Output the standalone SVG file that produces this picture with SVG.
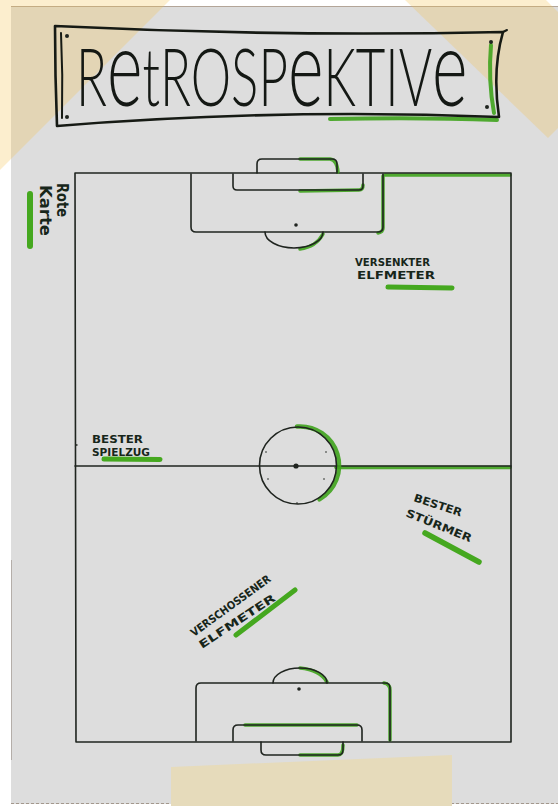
<svg xmlns="http://www.w3.org/2000/svg" width="558" height="806" viewBox="0 0 558 806">
<style>
.ink{fill:none;stroke:#1f241f;stroke-width:1.6;stroke-linecap:round;stroke-linejoin:round}
.frame{fill:none;stroke:#161a14;stroke-width:2.6;stroke-linecap:round;stroke-linejoin:round}
.gr{fill:none;stroke:#3fa31d;stroke-width:3.5;stroke-linecap:round;stroke-linejoin:round;opacity:.9}
.bar{fill:none;stroke:#45a81f;stroke-linecap:round}
.title{font-family:Lato,"Open Sans","DejaVu Sans",sans-serif;font-weight:300;font-size:81px;fill:#141814}
.title .lc{font-size:108px}
.lab{font-family:"DejaVu Sans","Liberation Sans",sans-serif;font-weight:bold;font-size:11px;fill:#17261a}
.lab2{font-family:"DejaVu Sans","Liberation Sans",sans-serif;font-weight:600;font-size:15px;fill:#17261a}
.dot{fill:#1f241f}
</style>
<rect x="0" y="0" width="558" height="806" fill="#ffffff"/>
<g id="paper">
<rect x="11" y="6" width="547" height="798" fill="#dddddd"/>
<line x1="11" y1="6.5" x2="558" y2="6.5" stroke="#8b6f55" stroke-width="1" opacity=".5"/>
<line x1="11" y1="803.5" x2="558" y2="803.5" stroke="#7d6a58" stroke-width="1.2" stroke-dasharray="3 2" opacity=".6"/>
<line x1="11.5" y1="560" x2="11.5" y2="760" stroke="#6b5a4a" stroke-width="1" opacity=".35"/>
</g>
<g id="tape">
<polygon points="0,0 170,0 0,170" fill="#f5c24a" opacity=".27"/>
<polygon points="405,0 546,0 558,12 558,128 548,138" fill="#f5c24a" opacity=".27"/>
<polygon points="171,767 452,755 452,806 171,806" fill="#e6dbbb"/>
</g>
<g id="title">
<path class="gr" d="M491,45 Q488,80 494,113 M330,119 Q420,117 497,120" style="stroke-width:4"/>
<path class="frame" d="M55,26 Q280,37 503,32 Q492,70 499,117 Q280,108 57,126 Q55,75 55,26 Z"/>
<path class="frame" d="M61,33 Q63,75 62,118" style="stroke-width:2"/>
<path class="frame" d="M503,32 L507,30" style="stroke-width:2"/>
<circle cx="67" cy="36" r="2" class="dot"/>
<circle cx="67" cy="117" r="2" class="dot"/>
<circle cx="491" cy="42" r="2" class="dot"/>
<circle cx="487" cy="107" r="2" class="dot"/>
<text class="title" transform="translate(76,106) scale(0.63,1)" x="0" y="0">R<tspan class="lc">e</tspan>tROSP<tspan class="lc">e</tspan>KTIV<tspan class="lc">e</tspan></text>
</g>
<g id="pitch">
<path class="gr" d="M385,175 L510,175"/>
<path class="gr" d="M336,467.5 L510,467.5"/>
<path class="ink" d="M75,173 L511,173 L511,742 L76,742 Z"/>
<path class="ink" d="M75,466 L511,466"/>
<path d="M76,445 l1.5,0" stroke="#1f241f" stroke-width="1.5"/>
</g>
<g id="center-circle">
<path class="gr" d="M297,426.6 A39,39 0 0 1 319.5,499.3" style="stroke-width:4.5"/>
<circle class="ink" cx="298" cy="465.5" r="38.5"/>
<circle cx="296" cy="466" r="2.6" class="dot"/>
<circle cx="266" cy="452" r="0.8" class="dot"/>
<circle cx="326" cy="452" r="0.8" class="dot"/>
<circle cx="268" cy="479" r="0.8" class="dot"/>
<circle cx="324" cy="479" r="0.8" class="dot"/>
<circle cx="297" cy="503" r="0.8" class="dot"/>
</g>
<g id="top-goal">
<path class="gr" d="M383,176 L383,228 Q383,232 378,233"/>
<path class="gr" d="M300,191 L359,190 Q363,190 363,185"/>
<path class="gr" d="M300,159 L330,159 Q337,160 338,172"/>
<path class="gr" d="M300,249 Q316,247 323,234"/>
<path class="ink" d="M191,174 L191,227 Q191,232 196,232 L378,232 Q383,232 383,227 L383,174"/>
<path class="ink" d="M233,174 L233,186 Q233,190 237,190 L359,190 Q363,190 363,186 L363,174"/>
<path class="ink" d="M257,173 L257,164 Q257,159 262,159 L332,159 Q337,159 337,164 L337,173"/>
<path class="ink" d="M265,232 A29,16 0 0 0 323,232"/>
<circle cx="296" cy="225" r="1.8" class="dot"/>
</g>
<g id="bottom-goal">
<path class="gr" d="M384,683 Q390,684 390,690 L390,740"/>
<path class="gr" d="M245,725 L357,725"/>
<path class="gr" d="M300,755 L338,755 Q343,755 343,745"/>
<path class="gr" d="M300,668 Q320,670 327,682"/>
<path class="ink" d="M196,741 L196,688 Q196,683 201,683 L385,683 Q390,683 390,688 L390,741"/>
<path class="ink" d="M233,741 L233,730 Q233,725 238,725 L357,725 Q362,725 362,730 L362,741"/>
<path class="ink" d="M261,742 L261,750 Q261,755 266,755 L338,755 Q343,755 343,750 L343,742"/>
<path class="ink" d="M273,683 A27,15 0 0 1 327,683"/>
<circle cx="299" cy="689" r="1.8" class="dot"/>
</g>
<g id="rote-karte">
<path class="bar" d="M30,194 L30,246" stroke-width="6"/>
<text class="lab2" transform="translate(57,183) rotate(90)" textLength="34" lengthAdjust="spacingAndGlyphs">Rote</text>
<text class="lab2" transform="translate(40,185) rotate(90)" textLength="51" lengthAdjust="spacingAndGlyphs">Karte</text>
</g>
<g id="versenkter-elfmeter">
<text class="lab" x="355" y="265.5" textLength="75" lengthAdjust="spacingAndGlyphs">VERSENKTER</text>
<text class="lab" x="357" y="278.5" textLength="78" lengthAdjust="spacingAndGlyphs">ELFMETER</text>
<path class="bar" d="M388,287 L452,288" stroke-width="5"/>
</g>
<g id="bester-spielzug">
<text class="lab" x="92" y="442.5" textLength="51" lengthAdjust="spacingAndGlyphs">BESTER</text>
<text class="lab" x="92" y="455.5" textLength="58" lengthAdjust="spacingAndGlyphs">SPIELZUG</text>
<path class="bar" d="M104,459 L160,459.5" stroke-width="5"/>
</g>
<g id="bester-stuermer">
<text class="lab" transform="translate(413,501) rotate(18)" textLength="50" lengthAdjust="spacingAndGlyphs">BESTER</text>
<text class="lab" transform="translate(405,516) rotate(22)" textLength="70" lengthAdjust="spacingAndGlyphs">STÜRMER</text>
<path class="bar" d="M425,533 L479,562" stroke-width="5.5"/>
</g>
<g id="verschossener-elfmeter">
<text class="lab" transform="translate(194,637) rotate(-36)" textLength="96" lengthAdjust="spacingAndGlyphs">VERSCHOSSENER</text>
<text class="lab" transform="translate(202,649) rotate(-33.5)" textLength="89" lengthAdjust="spacingAndGlyphs">ELFMETER</text>
<path class="bar" d="M236,635 L295,590" stroke-width="5"/>
</g>
</svg>
